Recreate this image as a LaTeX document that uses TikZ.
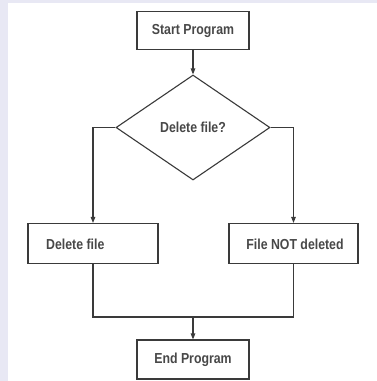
\documentclass[tikz,border=0pt]{standalone}
\usepackage{fontspec}
\setmainfont[FakeStretch=0.85]{Liberation Sans}
\usetikzlibrary{arrows.meta,shapes.geometric}
\definecolor{bgl}{HTML}{E8E8F4}
\definecolor{ink}{HTML}{3A3A3A}
\definecolor{txt}{HTML}{484848}
\begin{document}
\begin{tikzpicture}[x=1pt,y=-1pt,
  box/.style={draw=ink,line width=1.1pt,fill=white,inner sep=0pt},
  lbl/.style={font=\fontsize{14.5}{16}\selectfont\bfseries,text=txt,inner sep=0pt},
  conn/.style={draw=ink,line width=1.1pt},
  arr/.style={conn,-{Triangle[length=6pt,width=4.5pt]}}]
\useasboundingbox (0,0) rectangle (377,381);
\fill[bgl] (0,0) rectangle (377,381);
\fill[white] (8,3) rectangle (377,381);
% boxes
\node[box,minimum width=112pt,minimum height=38pt] (start) at (193,30.5) {};
\node[lbl] (startt) at (193,31) {Start Program};
\node[box,shape=diamond,minimum width=154pt,minimum height=105pt] (dec) at (193,127.5) {};
\node[lbl] (dect) at (193,127.5) {Delete file?};
\node[box,minimum width=130pt,minimum height=40pt] (del) at (93,243.5) {};
\node[lbl,anchor=west] (delt) at (46,244) {Delete file};
\node[box,minimum width=129pt,minimum height=40pt] (keep) at (293.5,243.5) {};
\node[lbl] (keept) at (295,244) {File NOT deleted};
\node[box,minimum width=112pt,minimum height=39pt] (end) at (193,359.5) {};
\node[lbl] (endt) at (193,360) {End Program};
\coordinate (lt) at (93,127.5);
\coordinate (rt) at (293.5,127.5);
\coordinate (lb) at (93,317);
\coordinate (rb) at (293.5,317);
\coordinate (mb) at (193,317);
% connectors
\draw[arr] (start.south) -- (dec.north);
\draw[arr] (dec.west) -- (lt) -- (del.north);
\draw[arr] (dec.east) -- (rt) -- (keep.north);
\draw[conn] (del.south) -- (lb) -- (rb) -- (keep.south);
\draw[arr] (mb) -- (end.north);
\end{tikzpicture}
\end{document}
